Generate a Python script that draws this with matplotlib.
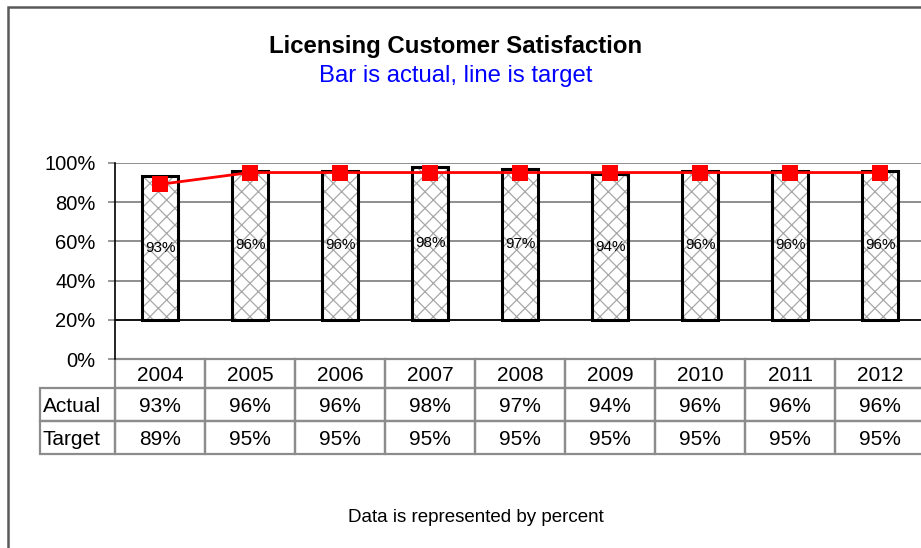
import matplotlib.pyplot as plt
from matplotlib.patches import Rectangle
from matplotlib.transforms import blended_transform_factory
import numpy as np

plt.rcParams['font.family'] = ['Liberation Sans', 'DejaVu Sans']
plt.rcParams['hatch.linewidth'] = 0.9

# Chart data
years = ['2004', '2005', '2006', '2007', '2008', '2009', '2010', '2011', '2012']
actual = [0.93, 0.96, 0.96, 0.98, 0.97, 0.94, 0.96, 0.96, 0.96]
target = [0.89, 0.95, 0.95, 0.95, 0.95, 0.95, 0.95, 0.95, 0.95]
row_labels = ['Actual', 'Target']
y_ticks = [0, 0.2, 0.4, 0.6, 0.8, 1.0]
base = 0.2  # horizontal axis crosses at 20%

W, H = 921, 548
fig = plt.figure(figsize=(W / 100, H / 100), dpi=100)

# plot area in pixels: x 115..925, y 162.7 (100%) .. 359.3 (0%)
ax_l, ax_r = 115, 925
ax_t, ax_b = 162.7, 359.3
ax = fig.add_axes([ax_l / W, 1 - ax_b / H, (ax_r - ax_l) / W, (ax_b - ax_t) / H])
ax_h = ax_b - ax_t

x = np.arange(len(years))
ax.set_xlim(-0.5, len(years) - 0.5)
ax.set_ylim(0, 1)

# gridlines
for t in y_ticks[2:]:
    ax.axhline(t, color='#868686', lw=1.3, zorder=1)
ax.axhline(base, color='black', lw=1.3, zorder=2)

# bars (hatch layer then black outline)
heights = [a - base for a in actual]
ax.bar(x, heights, 0.4, bottom=base, facecolor='white', edgecolor='#a8a8a8',
       hatch='xx', linewidth=0, zorder=3)
ax.bar(x, heights, 0.4, bottom=base, fill=False, edgecolor='black',
       linewidth=2.2, zorder=4)

for xi, a in zip(x, actual):
    ax.text(xi, (a + base) / 2, f'{a * 100:.0f}%', ha='center', va='center',
            fontsize=11, zorder=6)

# target line
ax.plot(x, target, color='#ff0000', lw=2, marker='s', markersize=12,
        markeredgewidth=0, zorder=5)

# axes styling
for s in ['top', 'right', 'bottom']:
    ax.spines[s].set_visible(False)
ax.spines['left'].set_color('black')
ax.spines['left'].set_linewidth(1.2)
ax.set_xticks([])
ax.set_yticks(y_ticks)
ax.set_yticklabels([f'{t * 100:.0f}%' for t in y_ticks])
ax.tick_params(axis='y', length=5, width=1.2, color='#868686', pad=9,
               labelsize=14.5)

# data table below the plot area
tr = blended_transform_factory(ax.transData, ax.transAxes)
grid_c = '#8c8c8c'
hdr_h = 29 / ax_h
row_h = 33 / ax_h
lab_w = 75 / 90  # row label column width in category units
txt_dy = -1.5 / ax_h

def cell(x0, y0, w, h):
    ax.add_patch(Rectangle((x0, y0), w, h, transform=tr, fill=False,
                           edgecolor=grid_c, lw=1.6, clip_on=False, zorder=2))

for i, yr in enumerate(years):
    cell(i - 0.5, -hdr_h, 1, hdr_h)
    ax.text(i, -hdr_h / 2 + txt_dy, yr, transform=tr, ha='center', va='center',
            fontsize=15)
for r, (lab, vals) in enumerate(zip(row_labels, [actual, target])):
    y0 = -hdr_h - (r + 1) * row_h
    cell(-0.5 - lab_w, y0, lab_w, row_h)
    ax.text(-0.5 - lab_w + 0.03, y0 + row_h / 2 + txt_dy, lab, transform=tr,
            ha='left', va='center', fontsize=15)
    for i, v in enumerate(vals):
        cell(i - 0.5, y0, 1, row_h)
        ax.text(i, y0 + row_h / 2 + txt_dy, f'{v * 100:.0f}%', transform=tr,
                ha='center', va='center', fontsize=15)

# titles and footer
fig.text(456 / W, 1 - 47 / H, 'Licensing Customer Satisfaction', ha='center',
         va='center', fontsize=17.3, fontweight='bold')
fig.text(456 / W, 1 - 76 / H, 'Bar is actual, line is target', ha='center',
         va='center', fontsize=17.2, color='#0000ff')
fig.text(476 / W, 1 - 518 / H, 'Data is represented by percent', ha='center',
         va='center', fontsize=13.5)

# chart area border (left and top edges visible)
fig.add_artist(Rectangle((8 / W, -0.05), 1.0, 1.05 - 7 / H, transform=fig.transFigure,
                         fill=False, edgecolor='#5a5a5a', lw=1.8))

fig.savefig('out.png', dpi=100)
